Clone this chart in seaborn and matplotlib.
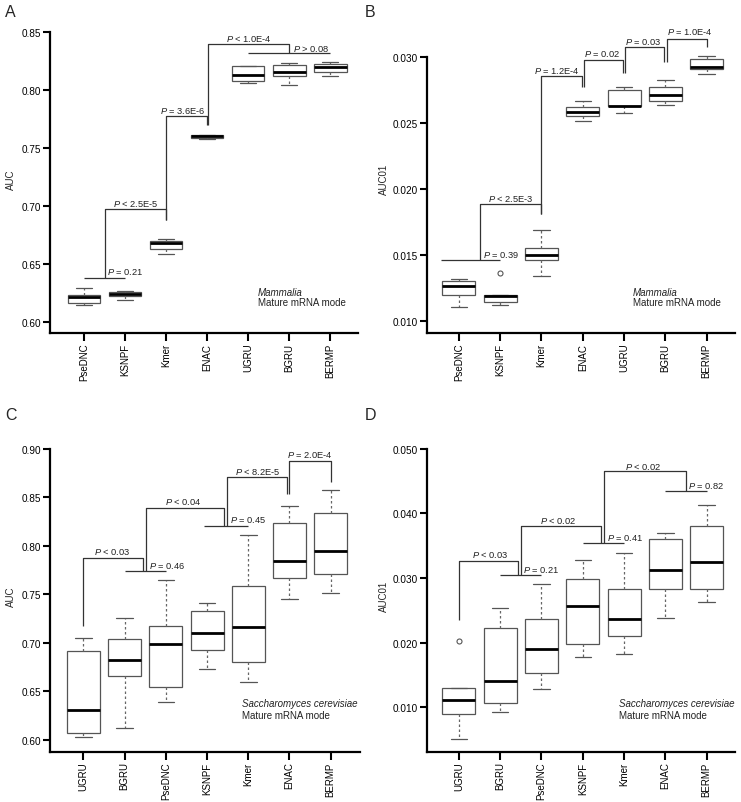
import numpy as np
import pandas as pd
import matplotlib
matplotlib.use("Agg")
import matplotlib.pyplot as plt
import seaborn as sns

# ---------------- data ----------------
methods_mam = ["PseDNC", "KSNPF", "Kmer", "ENAC", "UGRU", "BGRU", "BERMP"]
methods_yeast = ["UGRU", "BGRU", "PseDNC", "KSNPF", "Kmer", "ENAC", "BERMP"]

# Panel A: Mammalia AUC
a_lo = [0.6150, 0.6190, 0.6586, 0.7580, 0.8063, 0.8040, 0.8118]
a_q1 = [0.6166, 0.6227, 0.6630, 0.7588, 0.8080, 0.8120, 0.8153]
a_med = [0.6213, 0.6244, 0.6678, 0.7602, 0.8129, 0.8155, 0.8196]
a_q3 = [0.6230, 0.6260, 0.6698, 0.7608, 0.8204, 0.8218, 0.8224]
a_hi = [0.6290, 0.6265, 0.6713, 0.7610, 0.8204, 0.8230, 0.8239]
a_out = {}

# Panel B: Mammalia AUC01
b_lo = [0.01108, 0.01124, 0.01343, 0.02518, 0.02576, 0.02639, 0.02873]
b_q1 = [0.01202, 0.01144, 0.01464, 0.02558, 0.02630, 0.02671, 0.02911]
b_med = [0.01267, 0.01194, 0.01502, 0.02586, 0.02633, 0.02712, 0.02927]
b_q3 = [0.01305, 0.01199, 0.01558, 0.02621, 0.02755, 0.02773, 0.02987]
b_hi = [0.01318, 0.01199, 0.01689, 0.02669, 0.02777, 0.02826, 0.03012]
b_out = {"KSNPF": 0.01368}

# Panel C: Saccharomyces cerevisiae AUC
c_lo = [0.6031, 0.6121, 0.6386, 0.6726, 0.6598, 0.7447, 0.7516]
c_q1 = [0.6069, 0.6654, 0.6543, 0.6928, 0.6804, 0.7670, 0.7708]
c_med = [0.6306, 0.6818, 0.6987, 0.7103, 0.7162, 0.7839, 0.7942]
c_q3 = [0.6918, 0.7041, 0.7169, 0.7324, 0.7585, 0.8234, 0.8334]
c_hi = [0.7052, 0.7255, 0.7647, 0.7412, 0.8113, 0.8406, 0.8571]
c_out = {}

# Panel D: Saccharomyces cerevisiae AUC01
d_lo = [0.00509, 0.00923, 0.01283, 0.01779, 0.01825, 0.02378, 0.02635]
d_q1 = [0.00896, 0.01062, 0.01531, 0.01985, 0.02099, 0.02831, 0.02831]
d_med = [0.01118, 0.01412, 0.01897, 0.02568, 0.02362, 0.03125, 0.03245]
d_q3 = [0.01294, 0.02232, 0.02372, 0.02986, 0.02831, 0.03600, 0.03807]
d_hi = [0.01303, 0.02537, 0.02909, 0.03285, 0.03393, 0.03703, 0.04136]
d_out = {"UGRU": 0.02031}

a_ticks = [0.60, 0.65, 0.70, 0.75, 0.80, 0.85]
b_ticks = [0.010, 0.015, 0.020, 0.025, 0.030]
c_ticks = [0.60, 0.65, 0.70, 0.75, 0.80, 0.85, 0.90]
d_ticks = [0.010, 0.020, 0.030, 0.040, 0.050]


def build_obs(methods, lo, q1, med, q3, hi, outliers):
    rows = []
    for i, m in enumerate(methods):
        if m in outliers:
            vals = [lo[i], q1[i], q1[i], med[i], med[i], med[i], q3[i], hi[i], outliers[m]]
        else:
            vals = [lo[i], q1[i], q1[i], med[i], med[i], med[i], q3[i], q3[i], hi[i]]
        rows += [(m, v) for v in vals]
    return pd.DataFrame(rows, columns=["method", "value"])


def P(op, val):
    return r"$\mathit{P}$" + f" {op} {val}"


# ---------------- style ----------------
sns.set_style("ticks")
plt.rcParams["font.family"] = ["Liberation Sans", "DejaVu Sans"]
plt.rcParams["mathtext.fontset"] = "custom"
plt.rcParams["mathtext.it"] = "Liberation Sans:italic"
plt.rcParams["mathtext.rm"] = "Liberation Sans"

fig = plt.figure(figsize=(7.41, 8.03), dpi=100)
W, H = 741.0, 803.0


def px_axes(l, t, r, b):
    return fig.add_axes([l / W, 1 - b / H, (r - l) / W, (b - t) / H])


BR = "#333333"
TXT = 6.7

panels = [
    dict(rect=(50, 25, 358, 334), methods=methods_mam,
         stats=(a_lo, a_q1, a_med, a_q3, a_hi, a_out),
         ylim=(0.5905, 0.8569), xlim=(-0.83, 6.68), ticks=a_ticks, fmt="{:.2f}",
         ylabel="AUC", letter="A", letter_xy=(5, 5),
         polys=[([0, 1], [0.6382, 0.6382]),
                ([0.5, 0.5, 2, 2], [0.6382, 0.6974, 0.6974, 0.688]),
                ([2, 2, 3, 3], [0.688, 0.7773, 0.7773, 0.7698]),
                ([3.03, 3.03, 5, 5], [0.7698, 0.8397, 0.8397, 0.8316]),
                ([4, 6], [0.8316, 0.8316])],
         texts=[(0.56, 0.6440, P("=", "0.21"), "left"),
                (1.25, 0.7026, P("<", "2.5E-5"), "center"),
                (2.40, 0.7828, P("=", "3.6E-6"), "center"),
                (4.02, 0.8448, P("<", "1.0E-4"), "center"),
                (5.09, 0.8362, P(">", "0.08"), "left")],
         note=("Mammalia", 4.24, 0.6261, 0.6170)),
    dict(rect=(426.7, 25, 735, 334), methods=methods_mam,
         stats=(b_lo, b_q1, b_med, b_q3, b_hi, b_out),
         ylim=(0.009114, 0.03252), xlim=(-0.78, 6.686), ticks=b_ticks, fmt="{:.3f}",
         ylabel="AUC01", letter="B", letter_xy=(365, 5),
         polys=[([-0.44, 1.0], [0.01464, 0.01464]),
                ([0.5, 0.5, 2, 2], [0.01464, 0.01886, 0.01886, 0.01813]),
                ([2, 2, 2.97, 2.97], [0.01813, 0.0286, 0.0286, 0.02773]),
                ([3.02, 3.02, 3.98, 3.98], [0.02773, 0.02979, 0.02979, 0.02881]),
                ([4.02, 4.02, 4.97, 4.97], [0.02881, 0.03076, 0.03076, 0.02965]),
                ([5.03, 5.03, 6, 6], [0.02965, 0.03141, 0.03141, 0.03081])],
         texts=[(0.574, 0.01512, P("=", "0.39"), "left"),
                (1.25, 0.01932, P("<", "2.5E-3"), "center"),
                (2.36, 0.02906, P("=", "1.2E-4"), "center"),
                (3.48, 0.03030, P("=", "0.02"), "center"),
                (4.46, 0.03124, P("=", "0.03"), "center"),
                (5.60, 0.03197, P("=", "1.0E-4"), "center")],
         note=("Mammalia", 4.22, 0.01224, 0.01148)),
    dict(rect=(50, 440, 360, 752.7), methods=methods_yeast,
         stats=(c_lo, c_q1, c_med, c_q3, c_hi, c_out),
         ylim=(0.5876, 0.91), xlim=(-0.808, 6.71), ticks=c_ticks, fmt="{:.2f}",
         ylabel="AUC", letter="C", letter_xy=(5, 408),
         polys=[([1, 2], [0.7736, 0.7736]),
                ([0, 0, 1.44, 1.44], [0.7169, 0.7876, 0.7876, 0.7736]),
                ([1.51, 1.51, 3.40, 3.40], [0.7736, 0.8392, 0.8392, 0.8206]),
                ([2.93, 4.0], [0.8206, 0.8206]),
                ([3.49, 3.49, 4.95, 4.95], [0.8206, 0.8705, 0.8705, 0.8533]),
                ([5.0, 5.0, 6.0, 6.0], [0.8533, 0.8876, 0.8876, 0.8654])],
         texts=[(0.71, 0.7942, P("<", "0.03"), "center"),
                (1.59, 0.7804, P("=", "0.46"), "left"),
                (2.43, 0.8461, P("<", "0.04"), "center"),
                (3.56, 0.8272, P("=", "0.45"), "left"),
                (4.22, 0.8770, P("<", "8.2E-5"), "center"),
                (5.50, 0.8942, P("=", "2.0E-4"), "center")],
         note=("Saccharomyces cerevisiae", 3.84, 0.6375, 0.6255)),
    dict(rect=(426.7, 440, 735, 752.7), methods=methods_yeast,
         stats=(d_lo, d_q1, d_med, d_q3, d_hi, d_out),
         ylim=(0.00313, 0.05153), xlim=(-0.78, 6.686), ticks=d_ticks, fmt="{:.3f}",
         ylabel="AUC01", letter="D", letter_xy=(365, 408),
         polys=[([0.99, 2.0], [0.03048, 0.03048]),
                ([0, 0, 1.44, 1.44], [0.02356, 0.0327, 0.0327, 0.03048]),
                ([1.50, 1.50, 3.45, 3.45], [0.03048, 0.03811, 0.03811, 0.03543]),
                ([3.0, 4.0], [0.03543, 0.03543]),
                ([3.52, 3.52, 5.5, 5.5], [0.03543, 0.04653, 0.04653, 0.04353]),
                ([4.99, 6.0], [0.04353, 0.04353])],
         texts=[(0.75, 0.03373, P("<", "0.03"), "center"),
                (1.56, 0.03141, P("=", "0.21"), "left"),
                (2.41, 0.03900, P("<", "0.02"), "center"),
                (3.58, 0.03636, P("=", "0.41"), "left"),
                (4.46, 0.04740, P("<", "0.02"), "center"),
                (5.55, 0.04446, P("=", "0.82"), "left")],
         note=("Saccharomyces cerevisiae", 3.87, 0.01062, 0.00881)),
]

for p in panels:
    l, t, r, b = p["rect"]
    ax = px_axes(l, t, r, b)
    df = build_obs(p["methods"], *p["stats"])
    sns.boxplot(data=df, x="method", y="value", order=p["methods"], ax=ax,
                width=0.8, color="white", linecolor="#555555", linewidth=0.9,
                boxprops=dict(edgecolor="#555555", linewidth=0.9),
                medianprops=dict(color="black", linewidth=2.0),
                whiskerprops=dict(color="#666666", linewidth=0.9, linestyle=(0, (2, 2))),
                capprops=dict(color="#555555", linewidth=0.9),
                flierprops=dict(marker="o", markerfacecolor="none",
                                markeredgecolor="#555555", markersize=3.6,
                                markeredgewidth=0.8))
    ax.set_xlim(*p["xlim"])
    ax.set_ylim(*p["ylim"])
    ax.set_yticks(p["ticks"])
    ax.set_yticklabels([p["fmt"].format(v) for v in p["ticks"]], fontsize=7.2)
    ax.set_xticks(range(len(p["methods"])))
    ax.set_xticklabels(p["methods"], rotation=90, fontsize=7)
    ax.set_xlabel("")
    ax.set_ylabel(p["ylabel"], fontsize=7)
    ax.yaxis.set_label_coords((15.5 - l) / (r - l) if p["ylabel"] == "AUC" else (388.5 - l) / (r - l), 0.5)
    for s in ["top", "right"]:
        ax.spines[s].set_visible(False)
    for s in ["left", "bottom"]:
        ax.spines[s].set_linewidth(1.6)
        ax.spines[s].set_color("black")
    ax.spines["left"].set_bounds(p["ylim"][0], p["ticks"][-1])
    ax.tick_params(axis="y", length=5, width=1.5, pad=1.5, colors="black")
    ax.tick_params(axis="x", length=6, width=1.5, pad=1.0, colors="black")
    ax.set_facecolor("none")
    for xs, ys in p["polys"]:
        ax.plot(xs, ys, color=BR, linewidth=0.9, solid_capstyle="butt")
    for x, y, s, ha in p["texts"]:
        ax.text(x, y, s, ha=ha, va="center", fontsize=TXT, color="#222222")
    nm, nx, ny1, ny2 = p["note"]
    ax.text(nx, ny1, nm, ha="left", va="center", fontsize=7, style="italic", color="#222222")
    ax.text(nx, ny2, "Mature mRNA mode", ha="left", va="center", fontsize=7, color="#222222")
    lx, ly = p["letter_xy"]
    fig.text(lx / W, 1 - ly / H, p["letter"], ha="left", va="top", fontsize=11.5)

fig.savefig("out.png", dpi=100, facecolor="white")
